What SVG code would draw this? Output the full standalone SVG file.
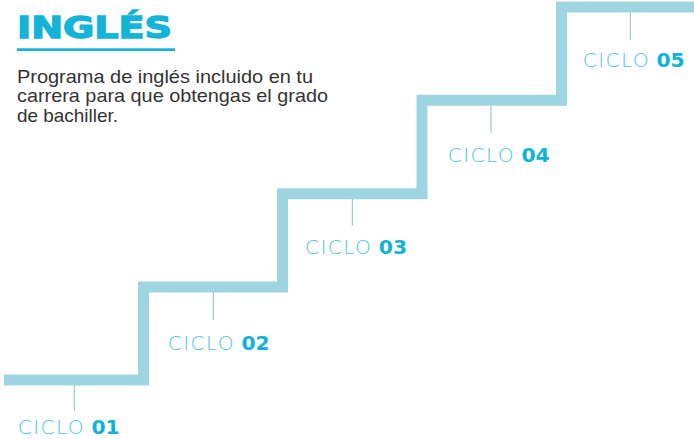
<svg xmlns="http://www.w3.org/2000/svg" width="694" height="439" viewBox="0 0 694 439">
  <style>
    .stair { fill: none; stroke: #9dd6e2; stroke-width: 11; stroke-linejoin: miter; }
    .tick { stroke: #8dbbd9; stroke-width: 1; }
    .lbl { font-family: "DejaVu Sans", "Liberation Sans", sans-serif; font-size: 20.3px; }
    .light { fill: #4cc6e3; font-weight: 200; letter-spacing: 1.3px; }
    .num { fill: #0fb2d9; font-weight: bold; }
    .body { font-family: "Liberation Sans", Arial, sans-serif; font-size: 18.5px; fill: #333333; }
  </style>
  <rect width="694" height="439" fill="#ffffff"/>

  <g id="header">
    <text x="17" y="38" font-family="DejaVu Sans, Liberation Sans, sans-serif" font-weight="bold" font-size="31" fill="#13b4d8" stroke="#13b4d8" stroke-width="1.4" textLength="155" lengthAdjust="spacingAndGlyphs">INGLÉS</text>
    <rect x="17" y="48.3" width="158" height="2.7" fill="#13b4d8"/>
    <text class="body" x="17" y="82.5" textLength="296" lengthAdjust="spacingAndGlyphs">Programa de inglés incluido en tu</text>
    <text class="body" x="17" y="102" textLength="311" lengthAdjust="spacingAndGlyphs">carrera para que obtengas el grado</text>
    <text class="body" x="17" y="121.5" textLength="101" lengthAdjust="spacingAndGlyphs">de bachiller.</text>
  </g>

  <g id="connectors">
    <path class="stair" d="M4,380 H143.5 V287 H282.5 V193.7 H422 V100.3 H561.5 V7 H694"/>
  </g>

  <g id="ciclo01">
    <line class="tick" x1="74.3" y1="385" x2="74.3" y2="411"/>
    <text class="lbl" x="17.7" y="434"><tspan class="light">CICLO</tspan> <tspan class="num">01</tspan></text>
  </g>
  <g id="ciclo02">
    <line class="tick" x1="213.3" y1="292" x2="213.3" y2="320"/>
    <text class="lbl" x="167.7" y="350"><tspan class="light">CICLO</tspan> <tspan class="num">02</tspan></text>
  </g>
  <g id="ciclo03">
    <line class="tick" x1="352.3" y1="199" x2="352.3" y2="225.7"/>
    <text class="lbl" x="305" y="254"><tspan class="light">CICLO</tspan> <tspan class="num">03</tspan></text>
  </g>
  <g id="ciclo04">
    <line class="tick" x1="491" y1="105.7" x2="491" y2="132.7"/>
    <text class="lbl" x="447.7" y="162"><tspan class="light">CICLO</tspan> <tspan class="num">04</tspan></text>
  </g>
  <g id="ciclo05">
    <line class="tick" x1="630.3" y1="12.5" x2="630.3" y2="40"/>
    <text class="lbl" x="582.7" y="66.5"><tspan class="light">CICLO</tspan> <tspan class="num">05</tspan></text>
  </g>
</svg>
